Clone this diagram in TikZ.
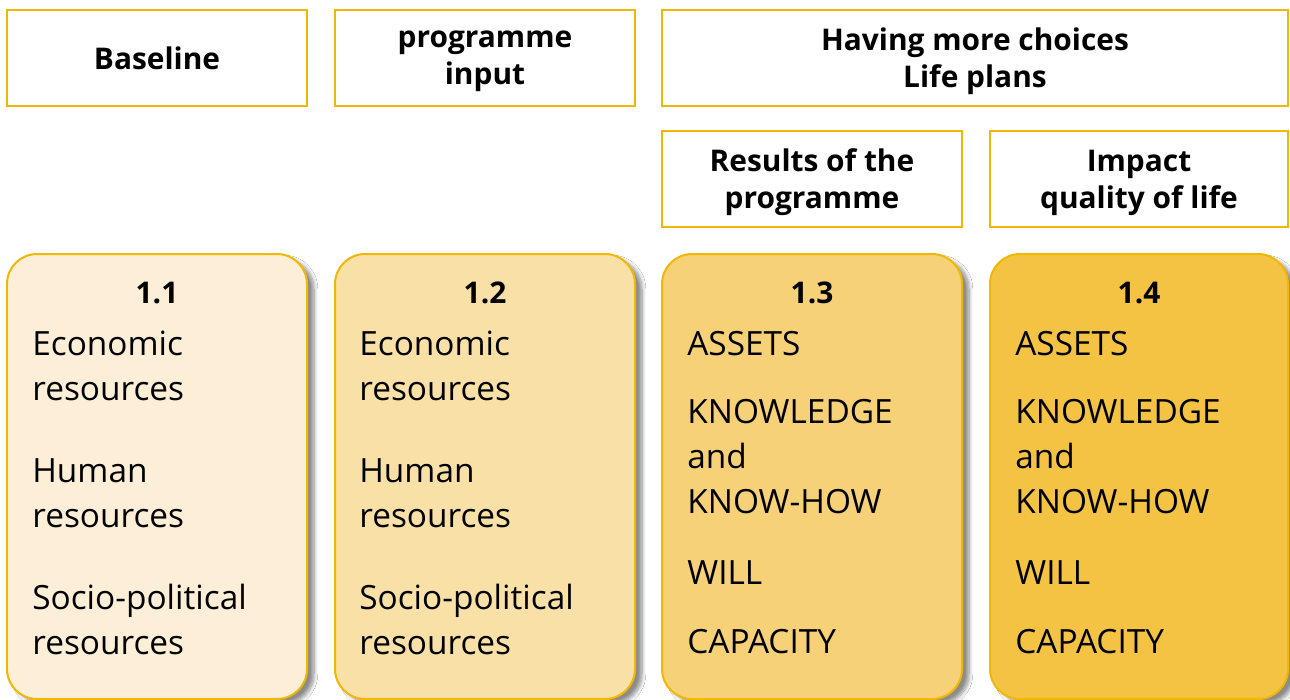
\documentclass[tikz,border=0pt]{standalone}
\usepackage{fontspec}
\setmainfont{Open Sans}
\usepackage{tikz}
\usetikzlibrary{positioning, shadows.blur}
\definecolor{BoxLine}{HTML}{F2B705}
\definecolor{Cream_1}{HTML}{FDEFD7}
\definecolor{Cream_2}{HTML}{F9E0A6}
\definecolor{Cream_3}{HTML}{F6D177}
\definecolor{Cream_4}{HTML}{F4C343}

\begin{document}
\begin{tikzpicture}[
    header/.style = {draw = BoxLine, line width = 0.04cm, fill = white, minimum width = 6cm, minimum height = 1.92cm, align = center,
                     text depth = -0.2cm, font = \bfseries\fontsize{17}{21}\selectfont},
    column/.style = {draw = BoxLine, line width = 0.04cm, rounded corners = 0.6cm, minimum width = 6cm, minimum height = 8.9cm,
                     blur shadow = {shadow xshift = 0.14cm, shadow yshift = -0.1cm, shadow blur steps = 8, shadow opacity = 45}},
    number/.style = {font = \bfseries\fontsize{17}{18}\selectfont},
    entries/.style = {align = left, anchor = north west, inner sep = 0pt, font = \fontsize{19}{25.6}\selectfont}
]
    \useasboundingbox[fill = white] (0, 0) rectangle (25.8, -14);

    % headers
    \node[header] (baseline) at (3.14, -1.16) {Baseline};
    \node[header] (input)    at (9.70, -1.16) {programme\\input};
    \node[header, minimum width = 12.52cm] (choices) at (19.50, -1.16) {Having more choices\\Life plans};
    \node[header] (results)  at (16.24, -3.58) {Results of the\\programme};
    \node[header, minimum width = 5.96cm] (impact) at (22.78, -3.58) {Impact\\quality of life};

    % columns
    \node[column, fill = Cream_1] (col1) at (3.14, -9.53) {};
    \node[column, fill = Cream_2] (col2) at (9.70, -9.53) {};
    \node[column, fill = Cream_3] (col3) at (16.24, -9.53) {};
    \node[column, fill = Cream_4, minimum width = 5.96cm] (col4) at (22.78, -9.53) {};

    \foreach \i in {1, ..., 4}
        \node[number, below = 0.45cm of col\i.north] (num\i) {1.\i};

    \node[entries] (res1) at (0.64, -6.62)  {Economic\\resources\\[0.74cm]Human\\resources\\[0.74cm]Socio-political\\resources};
    \node[entries] (res2) at (7.18, -6.62)  {Economic\\resources\\[0.74cm]Human\\resources\\[0.74cm]Socio-political\\resources};
    \node[entries] (res3) at (13.74, -6.62) {ASSETS\\[0.46cm]KNOWLEDGE\\and\\KNOW-HOW\\[0.52cm]WILL\\[0.48cm]CAPACITY};
    \node[entries] (res4) at (20.30, -6.62) {ASSETS\\[0.46cm]KNOWLEDGE\\and\\KNOW-HOW\\[0.52cm]WILL\\[0.48cm]CAPACITY};
\end{tikzpicture}
\end{document}
